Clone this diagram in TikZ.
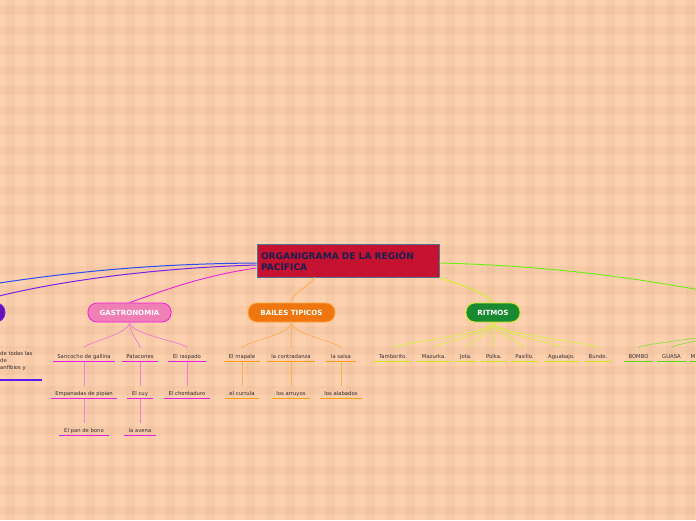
\documentclass[tikz,border=0pt]{standalone}
\usepackage{fontspec}
\setmainfont{DejaVu Sans}
\usetikzlibrary{calc}
\definecolor{bgbase}{HTML}{FDD1B0}
\definecolor{bgstripe}{HTML}{E8B692}
\definecolor{rootfill}{HTML}{C41230}
\definecolor{rootdraw}{HTML}{4F7595}
\definecolor{roottext}{HTML}{1B1F4F}
\definecolor{leaftext}{HTML}{352B2B}
\definecolor{gasfill}{HTML}{F07FB5}
\definecolor{gasdraw}{HTML}{F21EE0}
\definecolor{gascon}{HTML}{F27CD6}
\definecolor{gasul}{HTML}{E41EE4}
\definecolor{baifill}{HTML}{EF760E}
\definecolor{baidraw}{HTML}{FFA840}
\definecolor{baicon}{HTML}{FFB050}
\definecolor{baiul}{HTML}{FF9C18}
\definecolor{ritfill}{HTML}{1A8A32}
\definecolor{ritdraw}{HTML}{D2F020}
\definecolor{ritcon}{HTML}{D8F040}
\definecolor{ritul}{HTML}{CCEA1E}
\definecolor{grncon}{HTML}{8CE040}
\definecolor{grnul}{HTML}{5ADD16}
\definecolor{grnline}{HTML}{6CF010}
\definecolor{bluline}{HTML}{2A4CF5}
\definecolor{purline}{HTML}{7A22E8}
\definecolor{purfill}{HTML}{6A10B8}
\definecolor{purul}{HTML}{5A1AF0}
\tikzset{
  leaf/.style={font=\fontsize{5.3}{7}\selectfont, text=leaftext, inner xsep=4.5pt, inner ysep=2pt, text height=4pt, text depth=1.2pt, anchor=south},
  branch/.style={rounded corners=9pt, minimum height=19pt, inner sep=2pt, font=\bfseries\fontsize{7.1}{8}\selectfont, text=white, line width=0.8pt},
  rootbox/.style={fill=rootfill, draw=rootdraw, line width=0.9pt, text=roottext, font=\bfseries\fontsize{9.1}{11}\selectfont, align=left, text width=174pt, inner sep=4pt, minimum height=33pt},
  gcon/.style={draw=gascon, line width=0.7pt},
  gul/.style={draw=gasul, line width=1.4pt},
  bcon/.style={draw=baicon, line width=0.7pt},
  bul/.style={draw=baiul, line width=1.4pt},
  rcon/.style={draw=ritcon, line width=0.7pt},
  rul/.style={draw=ritul, line width=1.4pt},
  ncon/.style={draw=grncon, line width=0.7pt},
  nul/.style={draw=grnul, line width=1.4pt},
}
\begin{document}
\begin{tikzpicture}[x=1pt,y=-1pt]
\useasboundingbox (0,0) rectangle (696,520);
\clip (0,0) rectangle (696,520);
\fill[bgbase] (0,0) rectangle (696,520);
\foreach \i in {0,...,35} { \fill[bgstripe, opacity=0.25] (\i*20+6,0) rectangle ++(9,520); }
\foreach \j in {0,...,26} { \fill[bgstripe, opacity=0.25] (0,\j*20+6) rectangle ++(696,9); }

% root
\node[rootbox] (root) at (348,260.5) {ORGANIGRAMA DE LA REGIÓN\\PACÍFICA};

% branch nodes
\node[branch, fill=purfill, draw=purline, minimum width=60pt] (pur) at (-25,312.5) {};
\node[branch, fill=gasfill, draw=gasdraw, minimum width=83pt] (gas) at (129.5,312.5) {GASTRONOMIA};
\node[branch, fill=baifill, draw=baidraw, minimum width=87pt] (bai) at (291.5,312.5) {BAILES TIPICOS};
\node[branch, fill=ritfill, draw=ritdraw, minimum width=54pt] (rit) at (493,312.5) {RITMOS};

\coordinate (blueend) at (-80,296);
\coordinate (greenend) at (780,306);
\coordinate (greenhub) at (745,324);

% root connectors
\draw[bluline, line width=1pt] ($(root.west)+(0,2.5)$) .. controls (140,264) and (50,273) .. (blueend);
\draw[purline, line width=1pt] ($(root.west)+(0,4.5)$) .. controls (150,268) and (40,283) .. (pur.north);
\draw[gasdraw, line width=0.9pt] ($(root.west)+(0,7.5)$) .. controls (200,276) and (160,292) .. (gas.north);
\draw[baicon, line width=0.9pt] ($(root.south)+(-33,0)$) .. controls (305,290) and (292,292) .. (bai.north);
\draw[ritdraw, line width=0.9pt] ($(root.south east)+(0,0)$) .. controls (460,285) and (485,292) .. (rit.north);
\draw[grnline, line width=0.9pt] ($(root.east)+(0,2.5)$) .. controls (560,266) and (660,280) .. (greenend);

% purple leaf (partly outside)
\node[font=\fontsize{5.3}{7}\selectfont, text=leaftext, align=left, anchor=north west, inner sep=0pt] (pleaf) at (0,351.5) {de todas las\\de\\anfibios y};
\coordinate (pula) at (-10,380);
\coordinate (pulb) at (42,380);
\draw[purul, line width=1.4pt] (pula) -- (pulb);

% gastronomia leaves
\node[leaf] (g1) at (84,361.5) {Sancocho de gallina};
\node[leaf] (g2) at (140,361.5) {Patacones};
\node[leaf] (g3) at (187,361.5) {El raspado};
\node[leaf] (g4) at (84,398.5) {Empanadas de pipian};
\node[leaf] (g5) at (140,398.5) {El cuy};
\node[leaf] (g6) at (187,398.5) {El chontaduro};
\node[leaf] (g7) at (84,435.5) {El pan de bono};
\node[leaf] (g8) at (140,435.5) {la avena};
\foreach \n in {g1,g2,g3} { \draw[gcon, shorten >=4pt] (gas.south) .. controls +(0,12) and +(0,-9) .. (\n.north); }
\draw[gcon, shorten >=3pt] (g1.south) -- (g4.north);
\draw[gcon, shorten >=3pt] (g2.south) -- (g5.north);
\draw[gcon, shorten >=3pt] (g3.south) -- (g6.north);
\draw[gcon, shorten >=3pt] (g4.south) -- (g7.north);
\draw[gcon, shorten >=3pt] (g5.south) -- (g8.north);
\foreach \n in {g1,g2,g3,g4,g5,g6,g7,g8} { \draw[gul] (\n.south west) -- (\n.south east); }

% bailes leaves
\node[leaf] (b1) at (242,361.5) {El mapale};
\node[leaf] (b2) at (291,361.5) {la contradanza};
\node[leaf] (b3) at (341,361.5) {la salsa};
\node[leaf] (b4) at (242,398.5) {el currula};
\node[leaf] (b5) at (291,398.5) {los arruyos};
\node[leaf] (b6) at (341,398.5) {los alabados};
\foreach \n in {b1,b2,b3} { \draw[bcon, shorten >=4pt] (bai.south) .. controls +(0,12) and +(0,-9) .. (\n.north); }
\draw[bcon, shorten >=3pt] (b1.south) -- (b4.north);
\draw[bcon, shorten >=3pt] (b2.south) -- (b5.north);
\draw[bcon, shorten >=3pt] (b3.south) -- (b6.north);
\foreach \n in {b1,b2,b3,b4,b5,b6} { \draw[bul] (\n.south west) -- (\n.south east); }

% ritmos leaves
\node[leaf] (r1) at (393,361.5) {Tamborito.};
\node[leaf] (r2) at (434,361.5) {Mazurka.};
\node[leaf] (r3) at (466,361.5) {Jota.};
\node[leaf] (r4) at (494,361.5) {Polka.};
\node[leaf] (r5) at (524.5,361.5) {Pasillo.};
\node[leaf] (r6) at (561.5,361.5) {Aguabajo.};
\node[leaf] (r7) at (598,361.5) {Bunde.};
\foreach \n in {r1,r2,r3,r4,r5,r6,r7} { \draw[rcon, shorten >=4pt] (rit.south) .. controls +(0,12) and +(0,-9) .. (\n.north); }
\foreach \n in {r1,r2,r3,r4,r5,r6,r7} { \draw[rul] (\n.south west) -- (\n.south east); }

% green branch leaves (partly outside)
\node[leaf] (n1) at (638.5,361.5) {BOMBO};
\node[leaf] (n2) at (671.5,361.5) {GUASA};
\node[leaf, anchor=south west, inner xsep=0pt] (n3) at (690.5,361.5) {M};
\coordinate (n3end) at (730,361.5);
\foreach \n in {n1,n2} { \draw[ncon, shorten >=4pt] (greenhub) .. controls +(0,12) and +(0,-9) .. (\n.north); }
\draw[ncon, shorten >=4pt] (greenhub) .. controls +(0,12) and +(0,-9) .. ($(n3.north west)+(8,0)$);
\foreach \n in {n1,n2} { \draw[nul] (\n.south west) -- (\n.south east); }
\draw[nul] ($(n3.south west)+(-1,0)$) -- (n3end);
\end{tikzpicture}
\end{document}
